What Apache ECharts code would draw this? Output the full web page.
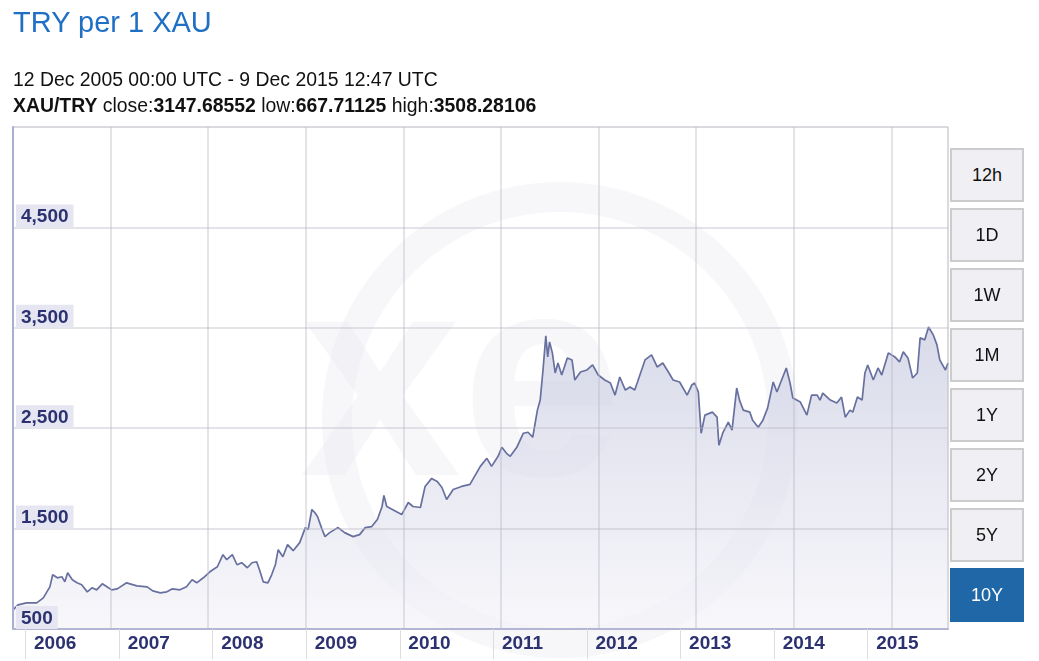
<!DOCTYPE html>
<html>
<head>
<meta charset="utf-8">
<script src="https://cdn.jsdelivr.net/npm/echarts@6/dist/echarts.min.js"></script>
<style>
html,body{margin:0;padding:0;background:#fff;}
#wrap{position:relative;width:1039px;height:661px;overflow:hidden;font-family:'Liberation Sans',Arial,sans-serif;}
#chart{position:absolute;left:0;top:0;width:1039px;height:661px;}
.t{position:absolute;left:13px;white-space:nowrap;line-height:1;color:#111;}
#title{top:7.5px;font-size:29px;color:#1f6fc4;}
#range{top:69.6px;font-size:19.4px;}
#stats{top:95.6px;font-size:19.4px;}
.btn{position:absolute;left:950px;width:70px;height:50px;border:2px solid #cccccc;background:#f0f0f4;
 font-size:18px;line-height:50px;text-align:center;color:#111;}
.btn.on{background:#1f67a7;border-color:#1f67a7;color:#fff;}
</style>
</head>
<body>
<div id="wrap">
  <div id="chart"></div>
  <div class="t" id="title">TRY per 1 XAU</div>
  <div class="t" id="range">12 Dec 2005 00:00 UTC - 9 Dec 2015 12:47 UTC</div>
  <div class="t" id="stats"><b>XAU/TRY</b> close:<b>3147.68552</b> low:<b>667.71125</b> high:<b>3508.28106</b></div>
</div>
<script>
// ---- data (decimal years, TRY per XAU) ----
const years = [
2005.946,2006.00,2006.09,2006.20,2006.27,2006.34,2006.37,2006.42,2006.47,2006.50,2006.53,2006.58,2006.63,2006.68,2006.74,2006.79,2006.84,2006.90,2006.95,
2007.00,2007.06,2007.16,2007.27,2007.38,2007.44,2007.52,2007.59,2007.65,2007.73,2007.80,2007.86,2007.91,2007.98,
2008.05,2008.13,2008.19,2008.23,2008.29,2008.34,2008.39,2008.45,2008.50,2008.55,2008.58,2008.62,2008.67,2008.71,2008.75,2008.78,2008.83,2008.88,2008.94,
2009.01,2009.07,2009.10,2009.14,2009.17,2009.20,2009.25,2009.28,2009.33,2009.42,2009.49,2009.58,2009.65,2009.71,2009.78,2009.84,2009.89,2009.91,2009.94,
2010.00,2010.06,2010.10,2010.17,2010.22,2010.30,2010.35,2010.42,2010.48,2010.53,2010.58,2010.65,2010.74,2010.83,2010.86,2010.94,
2011.01,2011.06,2011.13,2011.17,2011.22,2011.26,2011.33,2011.40,2011.45,2011.50,2011.55,2011.58,2011.61,2011.64,2011.66,2011.68,2011.71,2011.74,2011.77,2011.81,2011.87,2011.92,2011.95,
2012.01,2012.08,2012.14,2012.20,2012.27,2012.33,2012.38,2012.43,2012.49,2012.54,2012.59,2012.62,2012.70,2012.77,2012.83,2012.89,2012.95,
2013.00,2013.07,2013.15,2013.20,2013.23,2013.27,2013.30,2013.34,2013.42,2013.47,2013.49,2013.53,2013.59,2013.63,2013.68,2013.71,2013.75,2013.82,2013.85,2013.91,2013.96,
2014.01,2014.07,2014.11,2014.16,2014.21,2014.25,2014.28,2014.36,2014.43,2014.48,2014.54,2014.57,2014.60,2014.68,2014.75,2014.80,2014.84,2014.89,2014.92,2014.97,
2015.02,2015.05,2015.08,2015.14,2015.19,2015.23,2015.30,2015.37,2015.42,2015.46,2015.51,2015.56,2015.61,2015.64,2015.69,2015.73,2015.78,2015.82,2015.85,2015.91,2015.938
];
const prices = [
690,740,760,760,810,920,1040,1010,1020,970,1060,990,960,940,870,910,890,950,920,
890,900,960,930,920,880,860,870,900,890,920,990,960,1010,
1070,1120,1240,1190,1240,1140,1160,1110,1160,1170,1090,970,960,1040,1140,1290,1220,1340,1280,
1360,1510,1490,1690,1660,1620,1490,1420,1460,1510,1460,1420,1440,1510,1520,1590,1720,1830,1720,
1690,1660,1640,1760,1720,1710,1920,2000,1970,1910,1790,1890,1920,1940,1990,2120,
2200,2120,2220,2310,2250,2220,2310,2450,2460,2410,2680,2780,3080,3420,3210,3360,3250,3050,3150,3030,3200,3180,2980,
3060,3080,3130,3030,2980,2950,2830,3010,2880,2910,2880,2960,3180,3230,3110,3150,3060,
2980,2960,2830,2930,2950,2860,2450,2630,2660,2610,2330,2450,2560,2480,2900,2780,2680,2660,2580,2510,2580,
2700,2960,2860,2980,3100,2950,2800,2760,2630,2830,2830,2780,2850,2780,2750,2810,2610,2680,2660,2810,
2780,3050,3130,2980,3100,3030,3250,3210,3160,3260,3200,3000,3050,3400,3380,3508,3430,3330,3180,3080,3148
];
const yearLabels = [2006,2007,2008,2009,2010,2011,2012,2013,2014,2015];
const xRange = {min: 2005.946, max: 2015.938};
const yTicks = {min: 500, max: 5500, step: 1000};
const ranges = ['12h','1D','1W','1M','1Y','2Y','5Y','10Y'];
const activeRange = '10Y';

// ---- range buttons ----
const wrap = document.getElementById('wrap');
ranges.forEach((r, i) => {
  const d = document.createElement('div');
  d.className = 'btn' + (r === activeRange ? ' on' : '');
  d.style.top = (148 + i * 60) + 'px';
  d.textContent = r;
  wrap.appendChild(d);
});

const seriesData = years.map((y, i) => [y, prices[i]]);
const sepVals = yearLabels.map(y => y + 0.08);
const fmt = v => String(v).replace(/\B(?=(\d{3})+(?!\d))/g, ',');
const gridLine = {show: true, lineStyle: {color: 'rgba(185,186,198,0.4)', width: 2}};

const chart = echarts.init(document.getElementById('chart'), null, {renderer: 'canvas'});
chart.setOption({
  animation: false,
  backgroundColor: 'transparent',
  grid: {left: 13, top: 127, right: 91, bottom: 32, show: true, borderColor: '#e2e2e2', borderWidth: 1, backgroundColor: 'transparent'},
  graphic: [
    {type: 'ring', shape: {cx: 560, cy: 420, r: 238, r0: 208}, style: {fill: 'rgba(205,207,224,0.17)'}, z: 1, silent: true},
    {type: 'text', left: 300, top: 250, style: {text: 'xe', font: 'bold 290px "Liberation Sans", Arial', fill: 'rgba(205,207,224,0.17)'}, z: 1, silent: true}
  ],
  xAxis: [{
    type: 'value', z: 4,
    min: xRange.min, max: xRange.max,
    axisLine: {show: true, onZero: false, lineStyle: {color: '#b3b6d3', width: 2}},
    axisTick: {show: true, customValues: sepVals, length: 30, inside: false, lineStyle: {color: '#dddddd', width: 1}},
    axisLabel: {
      customValues: yearLabels, formatter: v => String(Math.round(v)),
      align: 'left', padding: [0, 0, 0, 16], margin: 5,
      color: '#2c3270', fontSize: 19, fontWeight: 'bold', fontFamily: '"Liberation Sans", Arial',
      showMinLabel: true, showMaxLabel: true
    },
    splitLine: {show: false}
  }, {
    type: 'value', z: 4, min: 0, max: 9.58, interval: 1, position: 'top',
    axisLine: {show: false}, axisTick: {show: false}, axisLabel: {show: false},
    splitLine: gridLine
  }],
  yAxis: {
    type: 'value', z: 4, min: yTicks.min, max: yTicks.max, interval: yTicks.step,
    axisLine: {show: true, lineStyle: {color: '#aaaed0', width: 2}},
    axisTick: {show: false},
    splitLine: gridLine,
    axisLabel: {
      inside: true, margin: 3, verticalAlign: 'bottom', showMaxLabel: false,
      formatter: fmt, color: '#2c3270', fontSize: 19, fontWeight: 'bold', fontFamily: '"Liberation Sans", Arial',
      backgroundColor: '#e5e6f1', padding: [3, 5, 1, 5], lineHeight: 19
    }
  },
  series: [{
    type: 'line', xAxisIndex: 0, yAxisIndex: 0, data: seriesData, showSymbol: false, z: 2,
    lineStyle: {color: '#68709f', width: 1.7},
    areaStyle: {color: new echarts.graphic.LinearGradient(0, 0, 0, 1, [
      {offset: 0, color: 'rgba(196,199,222,0.93)'},
      {offset: 1, color: 'rgba(243,243,248,0.9)'}
    ])}
  }]
});
</script>
</body>
</html>
